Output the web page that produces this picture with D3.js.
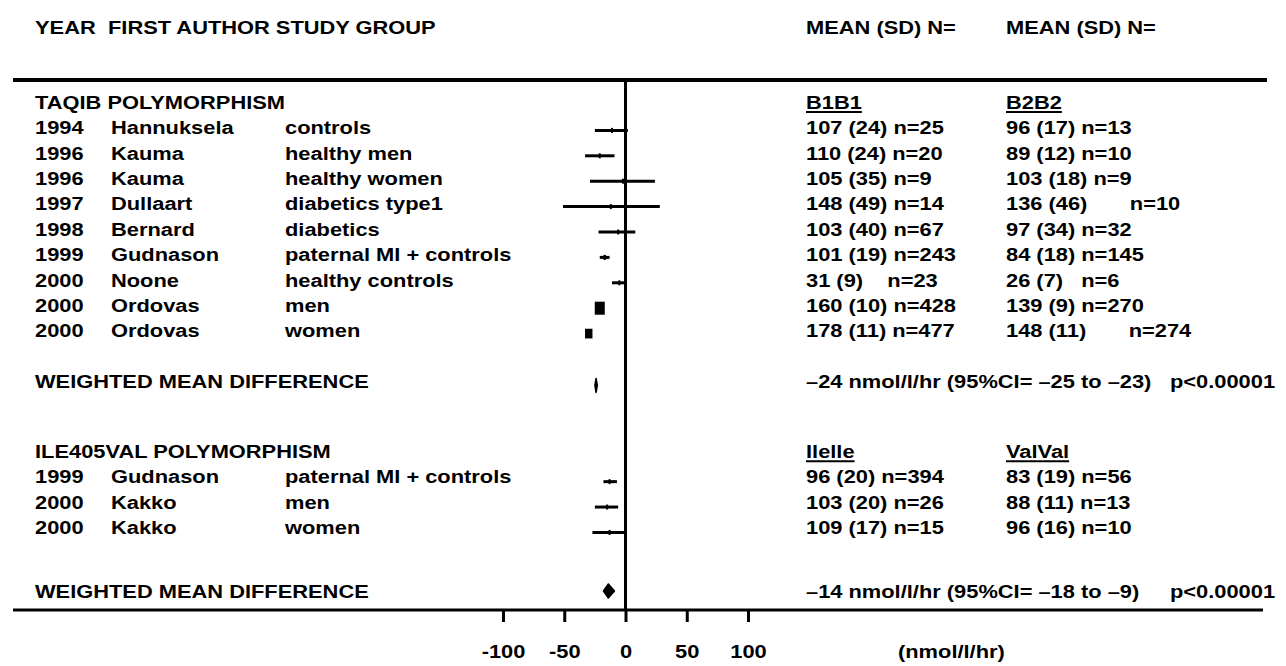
<!DOCTYPE html>
<html>
<head>
<meta charset="utf-8">
<script src="https://cdn.jsdelivr.net/npm/d3@7"></script>
<style>
  body { margin: 0; background: #fff; }
  text { font-family: "Liberation Sans", Arial, sans-serif; font-weight: bold; font-size: 19px; fill: #000; white-space: pre; }
</style>
</head>
<body>
<svg id="chart" width="1286" height="666"></svg>
<script>
// TaqIB polymorphism studies
var taqibYears = [1994, 1996, 1996, 1997, 1998, 1999, 2000, 2000, 2000];
var taqibAuthors = ['Hannuksela', 'Kauma', 'Kauma', 'Dullaart', 'Bernard', 'Gudnason', 'Noone', 'Ordovas', 'Ordovas'];
var taqibGroups = ['controls', 'healthy men', 'healthy women', 'diabetics type1', 'diabetics',
                   'paternal MI + controls', 'healthy controls', 'men', 'women'];
var taqibB1B1 = ['107 (24) n=25', '110 (24) n=20', '105 (35) n=9', '148 (49) n=14', '103 (40) n=67',
                 '101 (19) n=243', '31 (9)    n=23', '160 (10) n=428', '178 (11) n=477'];
var taqibB2B2 = ['96 (17) n=13', '89 (12) n=10', '103 (18) n=9', '136 (46)       n=10', '97 (34) n=32',
                 '84 (18) n=145', '26 (7)   n=6', '139 (9) n=270', '148 (11)       n=274'];
var taqibDiff = [-11, -21, -2, -12, -6, -17, -5, -21, -30];
var taqibLow = [-25, -33, -29, -51, -22, -21, -11, -23, -32];
var taqibHigh = [2, -9, 24, 28, 8, -13, 0, -19, -28];
var taqibWeight = [0.8, 0.8, 0.3, 0.2, 0.6, 3, 1.2, 45, 25];

// Ile405Val polymorphism studies
var ileYears = [1999, 2000, 2000];
var ileAuthors = ['Gudnason', 'Kakko', 'Kakko'];
var ileGroups = ['paternal MI + controls', 'men', 'women'];
var ileIleIle = ['96 (20) n=394', '103 (20) n=26', '109 (17) n=15'];
var ileValVal = ['83 (19) n=56', '88 (11) n=13', '96 (16) n=10'];
var ileDiff = [-13, -15, -13];
var ileLow = [-18, -25, -27];
var ileHigh = [-7, -6, 0];
var ileWeight = [1.5, 0.8, 0.6];

// pooled estimates
var pooledDiff = [-24, -14];
var pooledLow = [-25, -18];
var pooledHigh = [-23, -9];
var pooledText = ['\u201324 nmol/l/hr (95%CI= \u201325 to \u201323)', '\u201314 nmol/l/hr (95%CI= \u201318 to \u20139)'];
var pooledP = ['p<0.00001', 'p<0.00001'];

var sectionTitles = ['TAQIB POLYMORPHISM', 'ILE405VAL POLYMORPHISM'];
var genotypeLabels = [['B1B1', 'B2B2'], ['Ilelle', 'ValVal']];
var axisTicks = [-100, -50, 0, 50, 100];

var stretch = 1.15;
var svg = d3.select('#chart');

var x = d3.scaleLinear().domain([-100, 100]).range([503, 748]);
// rows are laid out on a slot grid
var y = d3.scaleLinear().domain([0, 1]).range([102, 127.4]);
var boxSize = d3.scaleSqrt().domain([0, 45]).range([0, 10]);

var col = {year: 35, author: 111, group: 285, left: 806, right: 1006, p: 1170};

function label(g, px, py, txt) {
    return g.append('text')
        .attr('transform', 'translate(' + px + ',' + py + ') scale(' + stretch + ',1)')
        .attr('dy', '0.36em')
        .text(txt);
}

function underlined(g, px, py, txt) {
    var t = label(g, px, py, txt);
    var len = t.node().getComputedTextLength() * stretch;
    g.append('line')
        .attr('x1', px).attr('x2', px + len)
        .attr('y1', py + 10).attr('y2', py + 10)
        .attr('stroke', '#000').attr('stroke-width', 2);
}

var sections = [
    {years: taqibYears, authors: taqibAuthors, groups: taqibGroups, a: taqibB1B1, b: taqibB2B2,
     diff: taqibDiff, low: taqibLow, high: taqibHigh, weight: taqibWeight, start: 0, markDy: 3, poolDy: 4},
    {years: ileYears, authors: ileAuthors, groups: ileGroups, a: ileIleIle, b: ileValVal,
     diff: ileDiff, low: ileLow, high: ileHigh, weight: ileWeight, start: 13.75, markDy: 5, poolDy: 0}
];

var textLayer = svg.append('g');
var markLayer = svg.append('g');

// header
label(textLayer, col.year, 27, 'YEAR');
label(textLayer, 108, 27, 'FIRST AUTHOR STUDY GROUP');
label(textLayer, col.left, 27, 'MEAN (SD) N=');
label(textLayer, col.right, 27, 'MEAN (SD) N=');

svg.append('line')
    .attr('x1', 13).attr('x2', 1267)
    .attr('y1', 80).attr('y2', 80)
    .attr('stroke', '#000').attr('stroke-width', 4);

sections.forEach(function(s, si) {
    var top = y(s.start);
    label(textLayer, col.year, top, sectionTitles[si]);
    underlined(textLayer, col.left, top, genotypeLabels[si][0]);
    underlined(textLayer, col.right, top, genotypeLabels[si][1]);

    s.years.forEach(function(yr, i) {
        var ry = y(s.start + 1 + i);
        label(textLayer, col.year, ry, yr);
        label(textLayer, col.author, ry, s.authors[i]);
        label(textLayer, col.group, ry, s.groups[i]);
        label(textLayer, col.left, ry, s.a[i]);
        label(textLayer, col.right, ry, s.b[i]);
    });

    var rows = s.diff.map(function(d, i) {
        return {diff: d, low: s.low[i], high: s.high[i], weight: s.weight[i],
                y: y(s.start + 1 + i) + s.markDy};
    });

    markLayer.selectAll('.ci-' + si)
        .data(rows)
      .enter()
      .append('line')
        .attr('class', 'ci-' + si)
        .attr('x1', function(d) { return x(d.low); })
        .attr('x2', function(d) { return x(d.high); })
        .attr('y1', function(d) { return d.y; })
        .attr('y2', function(d) { return d.y; })
        .attr('stroke', '#000')
        .attr('stroke-width', 3);

    markLayer.selectAll('.box-' + si)
        .data(rows)
      .enter()
      .append('rect')
        .attr('class', 'box-' + si)
        .attr('x', function(d) { return x(d.diff) - Math.max(1, boxSize(d.weight) / 2); })
        .attr('y', function(d) { return d.y - Math.max(2.5, boxSize(d.weight) * 0.65); })
        .attr('width', function(d) { return Math.max(2, boxSize(d.weight)); })
        .attr('height', function(d) { return Math.max(5, boxSize(d.weight) * 1.3); })
        .attr('fill', '#000');

    // pooled row
    var pslot = s.start + s.years.length + (si === 0 ? 2 : 2.5);
    var py = y(pslot);
    label(textLayer, col.year, py, 'WEIGHTED MEAN DIFFERENCE');
    label(textLayer, col.left, py, pooledText[si]);
    label(textLayer, col.p, py, pooledP[si]);

    var my = py + s.poolDy;
    markLayer.append('path')
        .datum({diff: pooledDiff[si], low: pooledLow[si], high: pooledHigh[si]})
        .attr('d', function(d) {
            return 'M' + x(d.low) + ',' + my +
                   'L' + x(d.diff) + ',' + (my - 7) +
                   'L' + x(d.high) + ',' + my +
                   'L' + x(d.diff) + ',' + (my + 7) + 'Z';
        })
        .attr('fill', '#000')
        .attr('stroke', '#000')
        .attr('stroke-width', 1.5)
        .attr('stroke-linejoin', 'round');
});

// zero line and bottom axis
var axisY = y(20);

svg.append('line')
    .attr('x1', x(0)).attr('x2', x(0))
    .attr('y1', 80).attr('y2', axisY)
    .attr('stroke', '#000').attr('stroke-width', 3);

svg.append('line')
    .attr('x1', 13).attr('x2', 1263)
    .attr('y1', axisY).attr('y2', axisY)
    .attr('stroke', '#000').attr('stroke-width', 3);

var axis = svg.append('g')
    .attr('transform', 'translate(0,' + axisY + ')')
    .call(d3.axisBottom(x)
        .tickValues(axisTicks)
        .tickSize(12)
        .tickPadding(23)
        .tickFormat(function(d) { return String(d); }));

axis.select('.domain').remove();
axis.selectAll('.tick line').attr('stroke', '#000').attr('stroke-width', 3);
axis.selectAll('.tick text')
    .attr('transform', 'scale(' + stretch + ',1)')
    .style('font-size', '19px')
    .style('font-family', '"Liberation Sans", Arial, sans-serif')
    .style('font-weight', 'bold')
    .attr('fill', '#000');

label(svg, 898, 651, '(nmol/l/hr)');
</script>
</body>
</html>
